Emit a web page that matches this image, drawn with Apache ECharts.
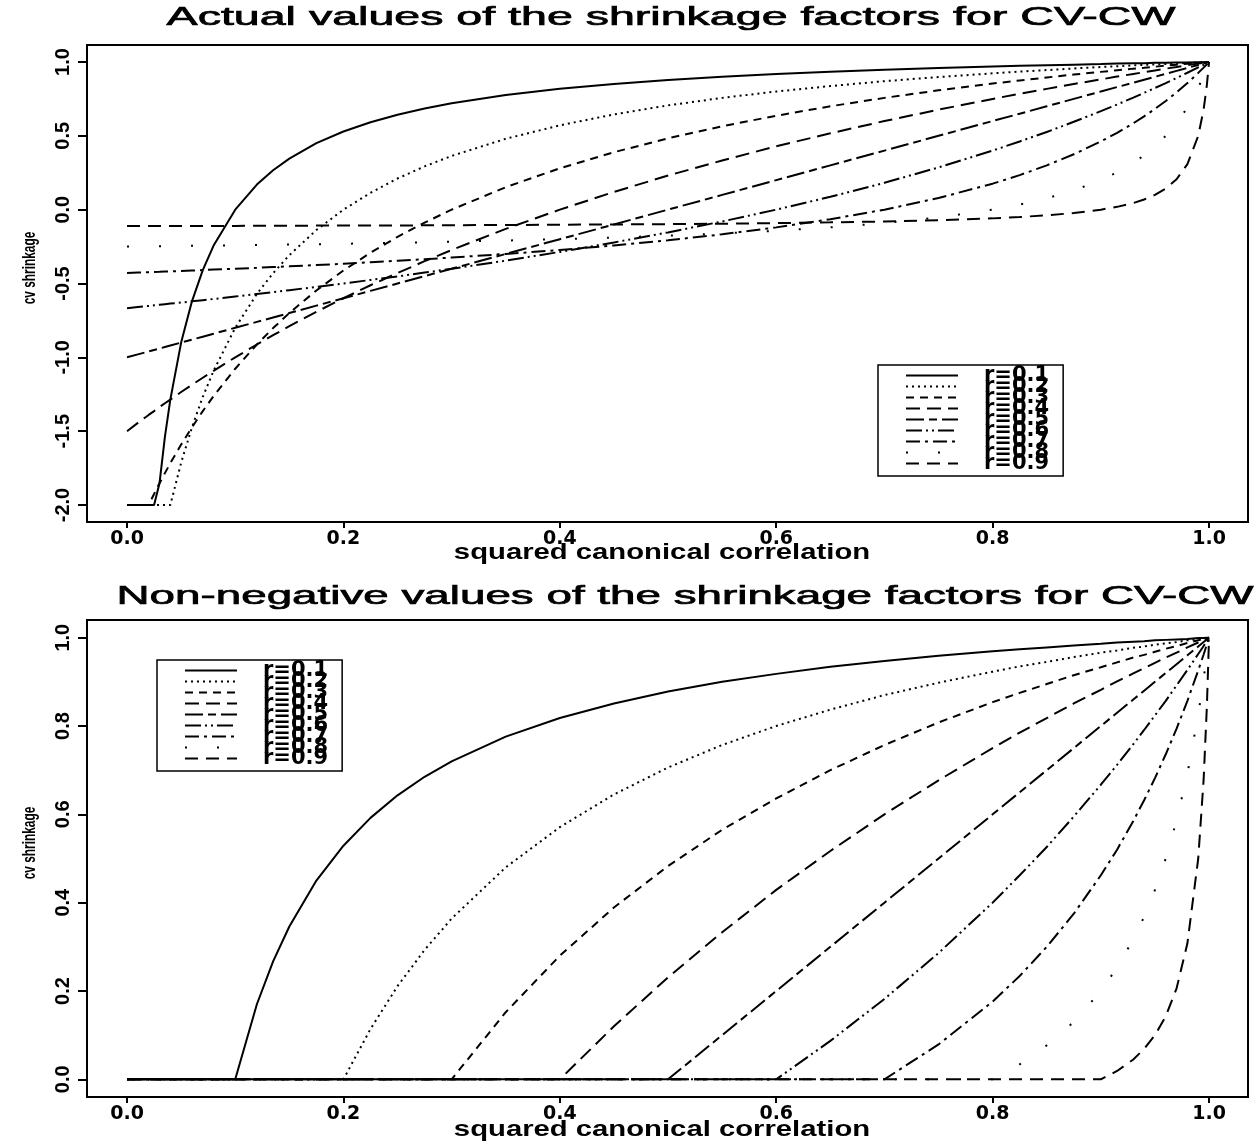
<!DOCTYPE html>
<html>
<head>
<meta charset="utf-8">
<title>Shrinkage factors for CV-CW</title>
<script src="https://cdn.jsdelivr.net/npm/echarts@6/dist/echarts.min.js"></script>
<style>
html, body { margin: 0; padding: 0; background: #ffffff; }
#chart { width: 1260px; height: 1145px; }
</style>
</head>
<body>
<div id="chart"></div>
<script>
// squared canonical correlation (shared sample points)
const xs = [0, 0.01, 0.02, 0.025, 0.03, 0.035, 0.04, 0.05, 0.06, 0.07, 0.08,
  0.1, 0.12, 0.135, 0.15, 0.175, 0.2, 0.225, 0.25, 0.275, 0.3,
  0.35, 0.4, 0.45, 0.5, 0.55, 0.6, 0.65, 0.7, 0.75, 0.8,
  0.825, 0.85, 0.875, 0.9, 0.915, 0.93, 0.94, 0.95, 0.96, 0.97, 0.98, 0.99, 0.995, 0.998, 1.0];

const ratios = ['r=0.1', 'r=0.2', 'r=0.3', 'r=0.4', 'r=0.5', 'r=0.6', 'r=0.7', 'r=0.8', 'r=0.9'];

// actual shrinkage factors (floored at -2 on the plot)
const actual01 = [-2, -2, -2, -2, -1.853, -1.539, -1.286, -0.9, -0.621, -0.409, -0.243,
  0, 0.170, 0.267, 0.346, 0.45, 0.529, 0.592, 0.643, 0.685, 0.720,
  0.776, 0.818, 0.851, 0.878, 0.900, 0.918, 0.934, 0.947, 0.959, 0.969,
  0.974, 0.978, 0.982, 0.986, 0.989, 0.991, 0.992, 0.994, 0.995, 0.996, 0.997, 0.999, 0.999, 1.0, 1];
const actual02 = [-2, -2, -2, -2, -2, -2, -2, -1.714, -1.474, -1.268, -1.091,
  -0.8, -0.571, -0.430, -0.308, -0.138, 0, 0.114, 0.211, 0.293, 0.364,
  0.48, 0.571, 0.645, 0.706, 0.757, 0.8, 0.837, 0.870, 0.898, 0.923,
  0.935, 0.945, 0.956, 0.966, 0.971, 0.977, 0.980, 0.984, 0.987, 0.990, 0.994, 0.997, 0.998, 0.999, 1];
const actual03 = [-2, -2, -2, -1.925, -1.853, -1.784, -1.717, -1.591, -1.474, -1.364, -1.262,
  -1.077, -0.913, -0.802, -0.7, -0.547, -0.412, -0.292, -0.184, -0.088, 0,
  0.152, 0.28, 0.389, 0.483, 0.565, 0.636, 0.7, 0.757, 0.808, 0.854,
  0.875, 0.895, 0.915, 0.933, 0.944, 0.955, 0.961, 0.968, 0.975, 0.981, 0.988, 0.994, 0.997, 0.999, 1];
const actual04 = [-1.5, -1.444, -1.390, -1.364, -1.337, -1.311, -1.286, -1.235, -1.186, -1.138, -1.091,
  -1, -0.913, -0.850, -0.789, -0.692, -0.6, -0.512, -0.429, -0.349, -0.273,
  -0.130, 0, 0.12, 0.231, 0.333, 0.429, 0.517, 0.6, 0.677, 0.75,
  0.785, 0.818, 0.851, 0.882, 0.901, 0.919, 0.931, 0.943, 0.955, 0.966, 0.978, 0.989, 0.994, 0.998, 1];
const actual05 = [-1, -0.98, -0.96, -0.95, -0.94, -0.93, -0.92, -0.9, -0.88, -0.86, -0.84,
  -0.8, -0.76, -0.73, -0.7, -0.65, -0.6, -0.55, -0.5, -0.45, -0.4,
  -0.3, -0.2, -0.1, 0, 0.1, 0.2, 0.3, 0.4, 0.5, 0.6,
  0.65, 0.7, 0.75, 0.8, 0.83, 0.86, 0.88, 0.9, 0.92, 0.94, 0.96, 0.98, 0.99, 0.996, 1];
const actual06 = [-0.667, -0.659, -0.652, -0.648, -0.644, -0.640, -0.636, -0.629, -0.621, -0.613, -0.605,
  -0.588, -0.571, -0.559, -0.545, -0.523, -0.5, -0.476, -0.452, -0.426, -0.4,
  -0.345, -0.286, -0.222, -0.154, -0.08, 0, 0.087, 0.182, 0.286, 0.4,
  0.462, 0.526, 0.595, 0.667, 0.712, 0.759, 0.791, 0.824, 0.857, 0.892, 0.927, 0.963, 0.981, 0.993, 1];
const actual07 = [-0.429, -0.426, -0.423, -0.422, -0.421, -0.419, -0.418, -0.415, -0.412, -0.409, -0.406,
  -0.4, -0.394, -0.389, -0.384, -0.375, -0.366, -0.356, -0.346, -0.336, -0.324,
  -0.3, -0.273, -0.242, -0.207, -0.167, -0.12, -0.065, 0, 0.079, 0.176,
  0.234, 0.3, 0.375, 0.462, 0.520, 0.585, 0.632, 0.682, 0.736, 0.794, 0.857, 0.926, 0.962, 0.985, 1];
const actual08 = [-0.25, -0.249, -0.248, -0.248, -0.248, -0.247, -0.247, -0.246, -0.245, -0.244, -0.243,
  -0.241, -0.239, -0.238, -0.236, -0.234, -0.231, -0.228, -0.224, -0.221, -0.217,
  -0.209, -0.2, -0.189, -0.176, -0.161, -0.143, -0.12, -0.091, -0.053, 0,
  0.034, 0.077, 0.130, 0.2, 0.253, 0.317, 0.368, 0.429, 0.5, 0.586, 0.692, 0.826, 0.907, 0.961, 1];
const actual09 = [-0.111, -0.111, -0.111, -0.111, -0.111, -0.111, -0.111, -0.110, -0.110, -0.110, -0.110,
  -0.110, -0.109, -0.109, -0.109, -0.108, -0.108, -0.107, -0.107, -0.106, -0.105,
  -0.104, -0.102, -0.1, -0.098, -0.095, -0.091, -0.086, -0.08, -0.071, -0.059,
  -0.05, -0.038, -0.023, 0, 0.019, 0.045, 0.069, 0.1, 0.143, 0.206, 0.308, 0.5, 0.679, 0.845, 1];

// non-negative shrinkage factors
const nonneg01 = [0, 0, 0, 0, 0, 0, 0, 0, 0, 0, 0,
  0, 0.170, 0.267, 0.346, 0.45, 0.529, 0.592, 0.643, 0.685, 0.720,
  0.776, 0.818, 0.851, 0.878, 0.900, 0.918, 0.934, 0.947, 0.959, 0.969,
  0.974, 0.978, 0.982, 0.986, 0.989, 0.991, 0.992, 0.994, 0.995, 0.996, 0.997, 0.999, 0.999, 1.0, 1];
const nonneg02 = [0, 0, 0, 0, 0, 0, 0, 0, 0, 0, 0,
  0, 0, 0, 0, 0, 0, 0.114, 0.211, 0.293, 0.364,
  0.48, 0.571, 0.645, 0.706, 0.757, 0.8, 0.837, 0.870, 0.898, 0.923,
  0.935, 0.945, 0.956, 0.966, 0.971, 0.977, 0.980, 0.984, 0.987, 0.990, 0.994, 0.997, 0.998, 0.999, 1];
const nonneg03 = [0, 0, 0, 0, 0, 0, 0, 0, 0, 0, 0,
  0, 0, 0, 0, 0, 0, 0, 0, 0, 0,
  0.152, 0.28, 0.389, 0.483, 0.565, 0.636, 0.7, 0.757, 0.808, 0.854,
  0.875, 0.895, 0.915, 0.933, 0.944, 0.955, 0.961, 0.968, 0.975, 0.981, 0.988, 0.994, 0.997, 0.999, 1];
const nonneg04 = [0, 0, 0, 0, 0, 0, 0, 0, 0, 0, 0,
  0, 0, 0, 0, 0, 0, 0, 0, 0, 0,
  0, 0, 0.12, 0.231, 0.333, 0.429, 0.517, 0.6, 0.677, 0.75,
  0.785, 0.818, 0.851, 0.882, 0.901, 0.919, 0.931, 0.943, 0.955, 0.966, 0.978, 0.989, 0.994, 0.998, 1];
const nonneg05 = [0, 0, 0, 0, 0, 0, 0, 0, 0, 0, 0,
  0, 0, 0, 0, 0, 0, 0, 0, 0, 0,
  0, 0, 0, 0, 0.1, 0.2, 0.3, 0.4, 0.5, 0.6,
  0.65, 0.7, 0.75, 0.8, 0.83, 0.86, 0.88, 0.9, 0.92, 0.94, 0.96, 0.98, 0.99, 0.996, 1];
const nonneg06 = [0, 0, 0, 0, 0, 0, 0, 0, 0, 0, 0,
  0, 0, 0, 0, 0, 0, 0, 0, 0, 0,
  0, 0, 0, 0, 0, 0, 0.087, 0.182, 0.286, 0.4,
  0.462, 0.526, 0.595, 0.667, 0.712, 0.759, 0.791, 0.824, 0.857, 0.892, 0.927, 0.963, 0.981, 0.993, 1];
const nonneg07 = [0, 0, 0, 0, 0, 0, 0, 0, 0, 0, 0,
  0, 0, 0, 0, 0, 0, 0, 0, 0, 0,
  0, 0, 0, 0, 0, 0, 0, 0, 0.079, 0.176,
  0.234, 0.3, 0.375, 0.462, 0.520, 0.585, 0.632, 0.682, 0.736, 0.794, 0.857, 0.926, 0.962, 0.985, 1];
const nonneg08 = [0, 0, 0, 0, 0, 0, 0, 0, 0, 0, 0,
  0, 0, 0, 0, 0, 0, 0, 0, 0, 0,
  0, 0, 0, 0, 0, 0, 0, 0, 0, 0,
  0.034, 0.077, 0.130, 0.2, 0.253, 0.317, 0.368, 0.429, 0.5, 0.586, 0.692, 0.826, 0.907, 0.961, 1];
const nonneg09 = [0, 0, 0, 0, 0, 0, 0, 0, 0, 0, 0,
  0, 0, 0, 0, 0, 0, 0, 0, 0, 0,
  0, 0, 0, 0, 0, 0, 0, 0, 0, 0,
  0, 0, 0, 0, 0.019, 0.045, 0.069, 0.1, 0.143, 0.206, 0.308, 0.5, 0.679, 0.845, 1];

// tick labels
const xTicks = [0, 0.2, 0.4, 0.6, 0.8, 1.0];
const yTicksActual = [-2, -1.5, -1, -0.5, 0, 0.5, 1];
const yTicksNonneg = [0, 0.2, 0.4, 0.6, 0.8, 1.0];

const actualSets = [actual01, actual02, actual03, actual04, actual05, actual06, actual07, actual08, actual09];
const nonnegSets = [nonneg01, nonneg02, nonneg03, nonneg04, nonneg05, nonneg06, nonneg07, nonneg08, nonneg09];

// one line pattern per ratio: solid, dotted, dashes, long dashes, dash-dot mixes, sparse dots
const lineDashes = ['solid', [2, 4], [8, 6], [14, 7], [18, 5, 8, 5], [16, 4, 2, 4, 2, 4], [14, 5, 3, 5], [2, 30], [13, 8]];

const chart = echarts.init(document.getElementById('chart'), null, { renderer: 'canvas' });

function makeSeries(sets, axisIndex) {
  return sets.map((ys, k) => ({
    name: ratios[k],
    type: 'line',
    xAxisIndex: axisIndex,
    yAxisIndex: axisIndex,
    data: xs.map((x, i) => [x, ys[i]]),
    symbol: 'none',
    showSymbol: false,
    silent: true,
    animation: false,
    clip: true,
    itemStyle: { color: '#000' },
    lineStyle: { color: '#000', width: 2, type: lineDashes[k] }
  }));
}

const tickFmt = v => Number(v).toFixed(1);

function xAxisFor(gridIndex) {
  return {
    type: 'value', gridIndex: gridIndex, position: 'bottom', min: -0.037, max: 1.036,
    axisLine: { show: true, onZero: false, lineStyle: { color: '#000', width: 2 } },
    splitLine: { show: false },
    axisTick: { show: true, inside: false, length: 6, customValues: xTicks, lineStyle: { color: '#000', width: 2 } },
    axisLabel: {
      customValues: xTicks, formatter: tickFmt, margin: 8,
      fontFamily: 'DejaVu Sans', fontWeight: 'bold', fontSize: 19, color: '#000'
    }
  };
}

function yAxisFor(gridIndex, min, max, ticks) {
  return {
    type: 'value', gridIndex: gridIndex, position: 'left', min: min, max: max,
    axisLine: { show: true, onZero: false, lineStyle: { color: '#000', width: 2 } },
    splitLine: { show: false },
    axisTick: { show: true, inside: false, length: 9, customValues: ticks, lineStyle: { color: '#000', width: 2 } },
    axisLabel: {
      customValues: ticks, formatter: tickFmt, rotate: 90, margin: 14,
      fontFamily: 'Liberation Sans', fontWeight: 'bold', fontSize: 20, color: '#000'
    }
  };
}

function legendFor(left, top) {
  return {
    data: ratios, orient: 'vertical', left: left, top: top,
    itemWidth: 52, itemHeight: 11, itemGap: -10,
    padding: [0, 14, 2, 27],
    borderColor: '#000', borderWidth: 1.5, borderRadius: 0,
    backgroundColor: '#fff',
    selectedMode: false,
    itemStyle: { opacity: 0 },
    textStyle: {
      fontFamily: 'DejaVu Sans', fontWeight: 'bold', fontSize: 21, lineHeight: 21,
      color: '#000', padding: [0, 0, 0, 21]
    }
  };
}

function label(text, x, y, opts) {
  return Object.assign({
    type: 'text', x: x, y: y, silent: true,
    style: Object.assign({
      text: text, fill: '#000',
      textAlign: 'center', textVerticalAlign: 'middle', align: 'center', verticalAlign: 'middle'
    }, opts.style)
  }, opts.el || {});
}

const titleStyle = { fontFamily: 'Liberation Sans', fontSize: 26, stroke: '#000', lineWidth: 0.7 };
const axisNameStyle = { fontFamily: 'Liberation Sans', fontWeight: 'bold', fontSize: 22 };
const yNameStyle = { fontFamily: 'Liberation Sans', fontWeight: 'bold', fontSize: 18 };

const option = {
  backgroundColor: '#ffffff',
  animation: false,
  grid: [
    { left: 87, top: 45, width: 1161, height: 477, show: true, borderColor: '#000', borderWidth: 2, backgroundColor: 'transparent' },
    { left: 87, top: 620, width: 1161, height: 477, show: true, borderColor: '#000', borderWidth: 2, backgroundColor: 'transparent' }
  ],
  xAxis: [xAxisFor(0), xAxisFor(1)],
  yAxis: [yAxisFor(0, -2.115, 1.115, yTicksActual), yAxisFor(1, -0.04, 1.04, yTicksNonneg)],
  legend: [legendFor(878, 365), legendFor(157, 660)],
  series: makeSeries(actualSets, 0).concat(makeSeries(nonnegSets, 1)),
  graphic: [
    label('Actual values of the shrinkage factors for CV-CW', 671, 18,
      { el: { scaleX: 1.79 }, style: titleStyle }),
    label('Non-negative values of the shrinkage factors for CV-CW', 685, 597,
      { el: { scaleX: 1.76 }, style: titleStyle }),
    label('squared canonical correlation', 662, 553,
      { el: { scaleX: 1.33 }, style: axisNameStyle }),
    label('squared canonical correlation', 662, 1130,
      { el: { scaleX: 1.33 }, style: axisNameStyle }),
    label('cv shrinkage', 30, 268,
      { el: { rotation: Math.PI / 2, scaleX: 0.66 }, style: yNameStyle }),
    label('cv shrinkage', 30, 843,
      { el: { rotation: Math.PI / 2, scaleX: 0.66 }, style: yNameStyle })
  ]
};

chart.setOption(option);
</script>
</body>
</html>
